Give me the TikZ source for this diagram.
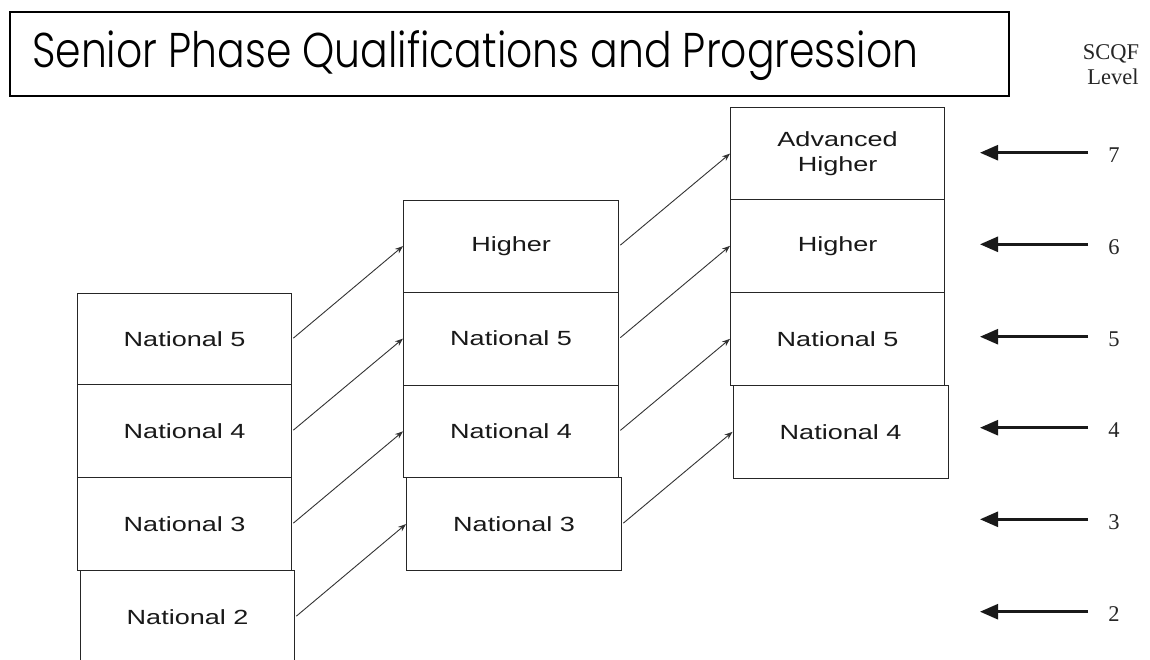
\documentclass[tikz,border=0pt]{standalone}
\usepackage{fontspec}
\usepackage{graphicx}
\setmainfont{Liberation Serif}
\newfontfamily\boxfont[FakeStretch=1.32]{Liberation Sans}
\newfontfamily\titlefont{Poppins}[UprightFont={* Light}]
\usetikzlibrary{arrows.meta}
\tikzset{
  qbox/.style={draw=black!85, line width=1.2pt, fill=white, inner sep=0pt,
    font=\boxfont\fontsize{20.5}{25}\selectfont, text=black!90, align=center, anchor=north west},
  prog/.style={-{Stealth[length=8pt,width=6pt]}, line width=0.9pt, draw=black!80, shorten <=1.5pt},
  lvl/.style={-{Triangle[length=18pt,width=15pt]}, line width=2.6pt, draw=black!90},
  lvltext/.style={font=\fontsize{22.5}{25}\selectfont, text=black!85, inner sep=0pt, anchor=base},
}
\begin{document}
\begin{tikzpicture}[x={(1pt,0)}, y={(0,-1pt)}]
\path[use as bounding box, clip] (0,0) rectangle (1150,659);
\fill[white] (0,0) rectangle (1150,659);
% title
\node[draw=black, line width=1.6pt, minimum width=999pt, minimum height=84pt, inner sep=0pt, anchor=north west] (title) at (9,11) {};
\node[anchor=base west, inner sep=0pt] (ttext) at (32,67) {\titlefont\fontsize{48.8}{50}\selectfont\resizebox{886pt}{\height}{Senior Phase Qualifications and Progression}};
% SCQF header
\node[lvltext] (scqf) at (1111,59.3) {SCQF};
\node[lvltext] (level) at (1113,84) {Level};
% column 1
\node[qbox, minimum width=214pt, minimum height=91pt] (c1n5) at (77,293) {National 5};
\node[qbox, minimum width=214pt, minimum height=93pt] (c1n4) at (77,384) {National 4};
\node[qbox, minimum width=214pt, minimum height=93pt] (c1n3) at (77,477) {National 3};
\node[qbox, minimum width=214pt, minimum height=93pt] (c1n2) at (80,570) {National 2};
% column 2
\node[qbox, minimum width=215pt, minimum height=92pt] (c2h) at (403,199.5) {Higher};
\node[qbox, minimum width=215pt, minimum height=93pt] (c2n5) at (403,291.5) {National 5};
\node[qbox, minimum width=215pt, minimum height=92.5pt] (c2n4) at (403,384.5) {National 4};
\node[qbox, minimum width=215pt, minimum height=93pt] (c2n3) at (406,477) {National 3};
% column 3
\node[qbox, minimum width=214pt, minimum height=92pt] (c3ah) at (730,107) {Advanced\\Higher};
\node[qbox, minimum width=214pt, minimum height=92.5pt] (c3h) at (730,199) {Higher};
\node[qbox, minimum width=214pt, minimum height=93.5pt] (c3n5) at (730,291.5) {National 5};
\node[qbox, minimum width=215pt, minimum height=92.5pt] (c3n4) at (732.5,385) {National 4};
% progression arrows
\draw[prog] (c1n5.east) -- (c2h.west);
\draw[prog] (c1n4.east) -- (c2n5.west);
\draw[prog] (c1n3.east) -- (c2n4.west);
\draw[prog] (c1n2.east) -- (c2n3.west);
\draw[prog] (c2h.east) -- (c3ah.west);
\draw[prog] (c2n5.east) -- (c3h.west);
\draw[prog] (c2n4.east) -- (c3n5.west);
\draw[prog] (c2n3.east) -- (c3n4.west);
% level arrows and numbers
\foreach \n/\y in {7/152.7, 6/244.3, 5/336.7, 4/427.7, 3/519.3, 2/611.7}{
  \coordinate (e\n) at (1088,\y);
  \coordinate (t\n) at (980,\y);
  \draw[lvl] (e\n) -- (t\n);
  \node[lvltext] (d\n) at (1114,\y+10) {\n};
}
\end{tikzpicture}
\end{document}
